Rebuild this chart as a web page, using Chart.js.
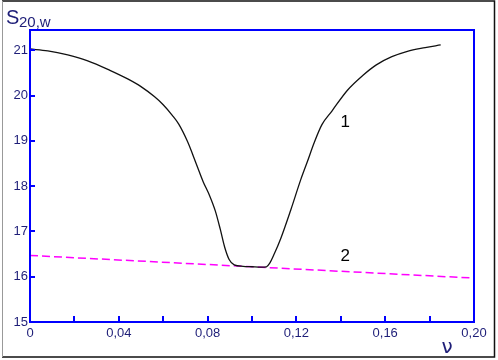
<!DOCTYPE html>
<html>
<head>
<meta charset="utf-8">
<script src="https://cdn.jsdelivr.net/npm/chart.js@4/dist/chart.umd.min.js"></script>
<style>
  html, body { margin: 0; padding: 0; background: #fff; }
  #wrap { width: 498px; height: 360px; position: relative; }
</style>
</head>
<body>
<div id="wrap"><canvas id="chart"></canvas></div>
<script>
// curve 1 (nu, S20,w)
const curve1X = [0.000, 0.008, 0.017, 0.026, 0.036, 0.044, 0.050, 0.056, 0.060, 0.064,
                 0.067, 0.071, 0.075, 0.078, 0.081, 0.0835, 0.0857, 0.0877, 0.0897, 0.092,
                 0.096, 0.100, 0.104, 0.1065, 0.108, 0.110, 0.113, 0.1175, 0.122, 0.125,
                 0.128, 0.1315, 0.136, 0.143, 0.150, 0.156, 0.163, 0.170, 0.178, 0.185];
const curve1Y = [21.03, 20.99, 20.90, 20.77, 20.56, 20.37, 20.20, 19.98, 19.80, 19.57,
                 19.37, 18.98, 18.48, 18.10, 17.78, 17.45, 17.05, 16.65, 16.38, 16.26,
                 16.23, 16.22, 16.21, 16.22, 16.30, 16.50, 16.85, 17.48, 18.15, 18.55,
                 18.96, 19.36, 19.66, 20.12, 20.45, 20.68, 20.86, 20.98, 21.06, 21.12];
// line 2
const curve2X = [0, 0.20];
const curve2Y = [16.47, 15.97];

const xTicks = [0, 0.02, 0.04, 0.06, 0.08, 0.10, 0.12, 0.14, 0.16, 0.18, 0.20];
const xLabeled = [0, 0.04, 0.08, 0.12, 0.16, 0.20];
const yTicks = [15, 16, 17, 18, 19, 20, 21];

const tickColor = '#1e1e78';
const axisBlue = '#0000ff';

function toPoints(xs, ys) {
    return xs.map((x, i) => ({ x: x, y: ys[i] }));
}

function fmtX(v) {
    if (v === 0) return '0';
    return v.toFixed(2).replace('.', ',');
}

const decorPlugin = {
    id: 'decor',
    afterDraw(chart) {
        const ctx = chart.ctx;
        const a = chart.chartArea;
        const xs = chart.scales.x, ys = chart.scales.y;
        ctx.save();
        // plot box
        ctx.strokeStyle = axisBlue;
        ctx.lineWidth = 2;
        ctx.strokeRect(a.left, a.top, a.right - a.left, a.bottom - a.top);
        // inner tick marks
        xTicks.forEach(v => {
            const px = Math.round(xs.getPixelForValue(v));
            ctx.beginPath();
            ctx.moveTo(px, a.bottom);
            ctx.lineTo(px, a.bottom - 6);
            ctx.stroke();
        });
        yTicks.forEach(v => {
            const py = Math.round(ys.getPixelForValue(v));
            ctx.beginPath();
            ctx.moveTo(a.left, py);
            ctx.lineTo(a.left + 5, py);
            ctx.stroke();
        });
        // curve labels
        ctx.fillStyle = '#000';
        ctx.font = '17px "Liberation Sans", Arial, sans-serif';
        ctx.textAlign = 'center';
        ctx.textBaseline = 'middle';
        ctx.fillText('1', xs.getPixelForValue(0.142), ys.getPixelForValue(19.4));
        ctx.fillText('2', xs.getPixelForValue(0.142), ys.getPixelForValue(16.45));
        // axis titles
        ctx.fillStyle = tickColor;
        ctx.textAlign = 'left';
        ctx.textBaseline = 'alphabetic';
        ctx.font = '20px "Liberation Sans", Arial, sans-serif';
        ctx.fillText('S', 6, 24);
        ctx.font = '15px "Liberation Sans", Arial, sans-serif';
        ctx.fillText('20,w', 19, 27);
        ctx.font = '20px "DejaVu Sans", sans-serif';
        ctx.textAlign = 'center';
        ctx.fillText('\u03bd', 447, 353);
        // outer frame
        ctx.lineWidth = 1.5;
        ctx.strokeStyle = '#111';
        ctx.beginPath();
        ctx.moveTo(2, 1); ctx.lineTo(494.5, 1);
        ctx.lineTo(494.5, 357); ctx.lineTo(2, 357);
        ctx.stroke();
        ctx.strokeStyle = '#999';
        ctx.lineWidth = 1;
        ctx.beginPath();
        ctx.moveTo(2.5, 1); ctx.lineTo(2.5, 357);
        ctx.stroke();
        ctx.restore();
    }
};

new Chart(document.getElementById('chart'), {
    type: 'scatter',
    data: {
        datasets: [
            {
                data: toPoints(curve1X, curve1Y),
                showLine: true,
                borderColor: '#111',
                borderWidth: 1.3,
                pointRadius: 0,
                cubicInterpolationMode: 'monotone'
            },
            {
                data: toPoints(curve2X, curve2Y),
                showLine: true,
                borderColor: '#ff00ff',
                borderWidth: 1.5,
                borderDash: [8, 4],
                pointRadius: 0
            }
        ]
    },
    options: {
        responsive: true,
        maintainAspectRatio: false,
        animation: false,
        layout: { padding: { left: 0, top: 30, right: 24, bottom: 0 } },
        plugins: {
            legend: { display: false },
            tooltip: { enabled: false }
        },
        scales: {
            x: {
                type: 'linear',
                min: 0,
                max: 0.2,
                afterBuildTicks: s => { s.ticks = xTicks.map(v => ({ value: v })); },
                afterFit: s => { s.height = 38; },
                grid: { display: false, drawTicks: false },
                border: { display: false },
                ticks: {
                    autoSkip: false,
                    maxRotation: 0,
                    padding: 4,
                    color: tickColor,
                    font: { family: '"Liberation Sans", Arial, sans-serif', size: 13 },
                    callback: v => xLabeled.some(l => Math.abs(l - v) < 1e-9) ? fmtX(v) : ''
                }
            },
            y: {
                min: 15,
                max: 21.45,
                afterBuildTicks: s => { s.ticks = yTicks.map(v => ({ value: v })); },
                afterFit: s => { s.width = 30; },
                grid: { display: false, drawTicks: false },
                border: { display: false },
                ticks: {
                    padding: 2,
                    color: tickColor,
                    font: { family: '"Liberation Sans", Arial, sans-serif', size: 13 }
                }
            }
        }
    },
    plugins: [decorPlugin]
});
</script>
</body>
</html>
